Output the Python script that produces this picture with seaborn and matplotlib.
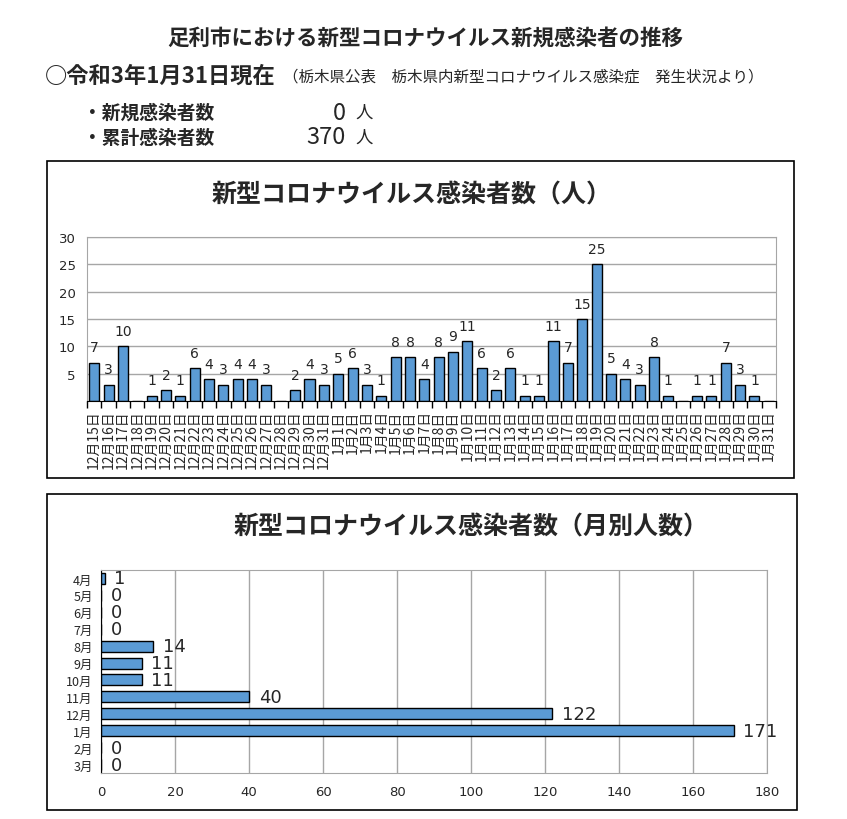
import numpy as np
import matplotlib
matplotlib.use('Agg')
import matplotlib.pyplot as plt
import seaborn as sns
from matplotlib.patches import Rectangle

# 日別の新規感染者数（12月15日〜1月31日）
dates = [f'12月{d}日' for d in range(15, 32)] + [f'1月{d}日' for d in range(1, 32)]
daily = [7, 3, 10, 0, 1, 2, 1, 6, 4, 3, 4, 4, 3, 0, 2, 4, 3,
         5, 6, 3, 1, 8, 8, 4, 8, 9, 11, 6, 2, 6, 1, 1, 11, 7, 15, 25,
         5, 4, 3, 8, 1, 0, 1, 1, 7, 3, 1, 0]

# 月別人数
months = ['4月', '5月', '6月', '7月', '8月', '9月', '10月', '11月', '12月', '1月', '2月', '3月']
monthly = [1, 0, 0, 0, 14, 11, 11, 40, 122, 171, 0, 0]

title = '足利市における新型コロナウイルス新規感染者の推移'
date_line = '○令和3年1月31日現在'
source_line = '（栃木県公表　栃木県内新型コロナウイルス感染症　発生状況より）'
summary_labels = ['・新規感染者数', '・累計感染者数']
summary_values = ['0', '370']

sns.set_style('white')
plt.rcParams['font.family'] = ['Noto Sans CJK JP', 'DejaVu Sans']

BLUE = '#5B9BD5'
GRID = '#A6A6A6'
W, H = 847, 820

fig = plt.figure(figsize=(W / 100, H / 100), dpi=100)


def fx(px):
    return px / W


def fy(py):
    return 1 - py / H


# ヘッダー
fig.text(fx(425), fy(38), title, ha='center', va='center', fontsize=15.5, fontweight='bold')
fig.text(fx(45), fy(76), date_line, ha='left', va='center', fontsize=16, fontweight='bold')
fig.text(fx(283), fy(77), source_line, ha='left', va='center', fontsize=11.2)
for i, (lab, val) in enumerate(zip(summary_labels, summary_values)):
    y = 113 + i * 25
    fig.text(fx(83), fy(y), lab, ha='left', va='center', fontsize=13.5, fontweight='bold')
    fig.text(fx(346), fy(y), val, ha='right', va='center', fontsize=17)
    fig.text(fx(355), fy(y), '人', ha='left', va='center', fontsize=12.5)

# 枠
for (x0, y0, x1, y1) in [(47, 162, 794, 479), (47, 495, 797, 811)]:
    fig.patches.append(Rectangle((fx(x0), fy(y1)), fx(x1 - x0), (y1 - y0) / H,
                                 transform=fig.transFigure, fill=False,
                                 edgecolor='black', linewidth=1.2))

# 日別グラフ
ax1 = fig.add_axes([fx(87), fy(402), fx(776 - 87), (402 - 238) / H])
sns.barplot(x=dates, y=daily, order=dates, color=BLUE, edgecolor='black',
            linewidth=1, width=0.7, saturation=1, ax=ax1)
ax1.set_xlim(-0.5, len(dates) - 0.5)
ax1.set_ylim(0, 30)
ax1.set_yticks(range(5, 31, 5))
ax1.set_yticklabels([str(v) for v in range(5, 31, 5)], family='DejaVu Sans', fontsize=9.5)
ax1.yaxis.grid(True, color=GRID, linewidth=1)
ax1.set_axisbelow(True)
ax1.tick_params(axis='y', length=0, pad=8)
ax1.set_xticks(range(len(dates)))
ax1.set_xticklabels(dates, rotation=90, fontsize=10)
ax1.set_xticks(np.arange(-0.5, len(dates)), minor=True)
ax1.tick_params(axis='x', which='major', length=0, pad=6)
ax1.tick_params(axis='x', which='minor', length=5, width=1, color='black', direction='out', bottom=True)
for s in ['left', 'right', 'top']:
    ax1.spines[s].set_color(GRID)
ax1.spines['bottom'].set_color('black')
for i, v in enumerate(daily):
    if v > 0:
        ax1.annotate(str(v), (i, v), xytext=(0, 6), textcoords='offset points',
                     ha='center', va='bottom', fontsize=10, family='DejaVu Sans')
ax1.set_xlabel('')
ax1.set_ylabel('')
fig.text(fx(412), fy(195), '新型コロナウイルス感染者数（人）', ha='center', va='center',
         fontsize=18, fontweight='bold')

# 月別グラフ
ax2 = fig.add_axes([fx(101), fy(774), fx(767 - 101), (774 - 571) / H])
sns.barplot(x=monthly, y=months, order=months, orient='h', color=BLUE, edgecolor='black',
            linewidth=1, width=0.65, saturation=1, ax=ax2)
ax2.set_xlim(0, 180)
ax2.set_ylim(len(months) - 0.5, -0.5)
ax2.set_xticks(range(0, 181, 20))
ax2.set_xticklabels([str(v) for v in range(0, 181, 20)], family='DejaVu Sans', fontsize=9.5)
ax2.xaxis.grid(True, color=GRID, linewidth=1)
ax2.set_axisbelow(True)
ax2.tick_params(axis='x', length=0, pad=9)
ax2.tick_params(axis='y', length=0, labelsize=9, pad=6)
for s in ['bottom', 'right', 'top']:
    ax2.spines[s].set_color(GRID)
ax2.spines['left'].set_color('black')
for i, v in enumerate(monthly):
    ax2.annotate(str(v), (v, i), xytext=(7, 0), textcoords='offset points',
                 ha='left', va='center', fontsize=13,
                 family=['Liberation Sans Narrow', 'DejaVu Sans'])
ax2.set_xlabel('')
ax2.set_ylabel('')
fig.text(fx(471), fy(527), '新型コロナウイルス感染者数（月別人数）', ha='center', va='center',
         fontsize=18, fontweight='bold')

fig.savefig('out.png', dpi=100)
